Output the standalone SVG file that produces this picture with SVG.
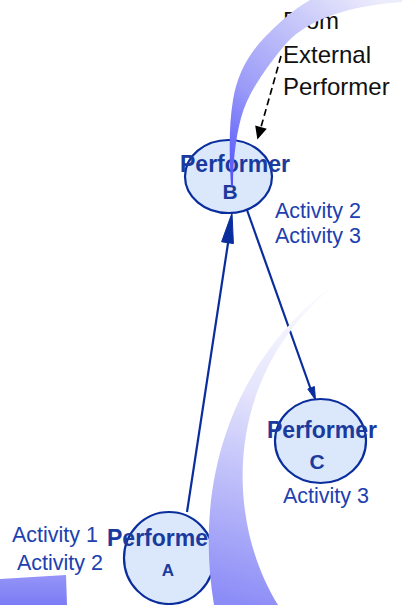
<svg xmlns="http://www.w3.org/2000/svg" width="402" height="605" viewBox="0 0 402 605">
  <defs>
    <style>
      .node { fill: #dbe8fb; stroke: #0a2d9e; stroke-width: 2.2; }
      .lbl { font-family: "Liberation Sans", Arial, sans-serif; font-weight: bold; fill: #1b3a9e; }
      .act { font-family: "Liberation Sans", Arial, sans-serif; font-size: 21.5px; fill: #2040b0; }
      .ext { font-family: "Liberation Sans", Arial, sans-serif; font-size: 24px; fill: #111111; }
      .conn { stroke: #0a2d9e; stroke-width: 2.2; fill: none; }
      .head { fill: #0a2d9e; stroke: #0a2d9e; stroke-width: 1; stroke-linejoin: miter; }
      .dash { stroke: #000000; stroke-width: 1.7; fill: none; stroke-dasharray: 7 4; }
    </style>
    <linearGradient id="g1" gradientUnits="userSpaceOnUse" x1="232" y1="186" x2="380" y2="0">
      <stop offset="0" stop-color="#4f4ffc"/>
      <stop offset="0.35" stop-color="#9a9af8"/>
      <stop offset="1" stop-color="#ececfc"/>
    </linearGradient>
    <linearGradient id="g2" gradientUnits="userSpaceOnUse" x1="344" y1="278" x2="245" y2="605">
      <stop offset="0" stop-color="#ffffff"/>
      <stop offset="0.4" stop-color="#e4e4fc"/>
      <stop offset="1" stop-color="#8c8cf7"/>
    </linearGradient>
    <linearGradient id="g3" gradientUnits="userSpaceOnUse" x1="0" y1="575" x2="0" y2="605">
      <stop offset="0" stop-color="#9494f8"/>
      <stop offset="1" stop-color="#7c7cf5"/>
    </linearGradient>
  </defs>

  <g id="connectors">
    <line class="conn" x1="187" y1="512" x2="228.5" y2="240"/>
    <polygon class="head" points="232,213 221.6,241.8 233.4,243.6"/>
    <line class="conn" x1="247" y1="210" x2="311" y2="390"/>
    <polygon class="head" points="315.5,400 314.4,386.6 307.8,389"/>
    <path class="dash" d="M 281,56 Q 271,92 261,127"/>
    <polygon fill="#000000" points="257.4,139.5 255.2,125.4 266.8,128.7"/>
  </g>

  <g id="external">
    <text class="ext" x="283" y="29">From</text>
    <text class="ext" x="283" y="63">External</text>
    <text class="ext" x="283" y="95">Performer</text>
  </g>

  <g id="performerB">
    <ellipse class="node" cx="228.5" cy="176.5" rx="43.5" ry="36.5"/>
    <text class="lbl" x="180" y="172" font-size="23">Performer</text>
    <text class="lbl" x="230" y="199" font-size="21" text-anchor="middle">B</text>
    <text class="act" x="275" y="218">Activity 2</text>
    <text class="act" x="275" y="243">Activity 3</text>
  </g>

  <g id="performerC">
    <ellipse class="node" cx="320.5" cy="441" rx="45.5" ry="42"/>
    <text class="lbl" x="267" y="438" font-size="23">Performer</text>
    <text class="lbl" x="317" y="469" font-size="21" text-anchor="middle">C</text>
    <text class="act" x="283" y="503">Activity 3</text>
  </g>

  <g id="performerA">
    <ellipse class="node" cx="169" cy="558" rx="45" ry="46"/>
    <text class="lbl" x="107" y="546" font-size="23">Performer</text>
    <text class="lbl" x="168" y="576" font-size="17" text-anchor="middle">A</text>
    <text class="act" x="12" y="542">Activity 1</text>
    <text class="act" x="17" y="570">Activity 2</text>
  </g>

  <g id="bands">
    <path fill="url(#g1)" d="M 231,186 C 229,150 229,125 233,100 C 237,75 248,55 264,38 C 278,24 292,10 310,0 L 402,0 L 402,2 C 340,6 302,24 284,46 C 266,68 248,92 241,118 C 235,140 233,165 233,186 Z"/>
    <path fill="url(#g2)" d="M 344,278 C 250,340 190,460 214,605 L 278,605 C 225,520 220,370 344,278 Z"/>
    <polygon fill="url(#g3)" points="0,579 66,575 67,605 0,605"/>
  </g>
</svg>
